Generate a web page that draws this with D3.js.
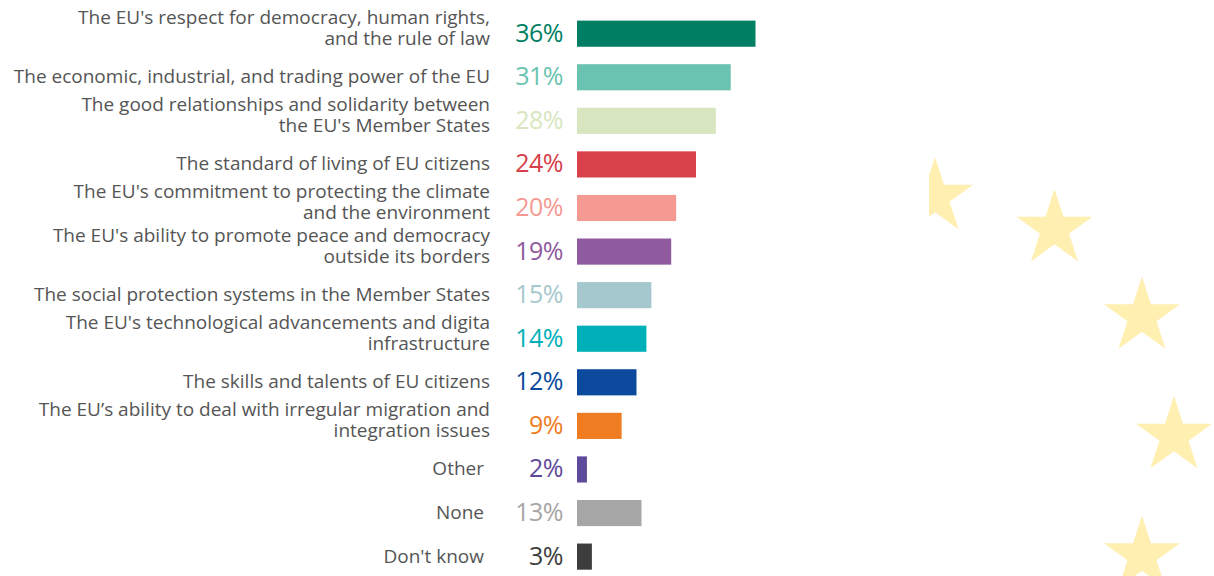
<!DOCTYPE html>
<html>
<head>
<meta charset="utf-8">
<script src="https://cdn.jsdelivr.net/npm/d3@7"></script>
<style>
  html, body { margin: 0; padding: 0; background: #fff; }
  svg { display: block; }
</style>
</head>
<body>
<div id="chart"></div>
<script>
// answers, top to bottom ("\n" = line break in the label)
const categories = [
  "The EU's respect for democracy, human rights,\nand the rule of law",
  "The economic, industrial, and trading power of the EU",
  "The good relationships and solidarity between\nthe EU's Member States",
  "The standard of living of EU citizens",
  "The EU's commitment to protecting the climate\nand the environment",
  "The EU's ability to promote peace and democracy\noutside its borders",
  "The social protection systems in the Member States",
  "The EU's technological advancements and digita\ninfrastructure",
  "The skills and talents of EU citizens",
  "The EU\u2019s ability to deal with irregular migration and\nintegration issues",
  "Other",
  "None",
  "Don't know"
];
const values = [36, 31, 28, 24, 20, 19, 15, 14, 12, 9, 2, 13, 3];
const colors = [
  "#007f64", "#6ac3b1", "#d8e6c0", "#d8404a", "#f59a93", "#8f5a9e", "#a5c8ce",
  "#00b0b9", "#0b4a9c", "#f07c22", "#5e4a9a", "#a6a6a6", "#3d3d3d"
];
// decorative EU stars, clock positions on the flag circle
const starHours = [12, 1, 2, 3, 4, 5];

const width = 1214;
const height = 576;

const svg = d3.select("#chart")
  .append("svg")
  .attr("width", width)
  .attr("height", height);

// --- stars in the background ---
const starCx = 935, starCy = 436, starRing = 239, starR = 40;

function starPath(R) {
  const r = R * 0.382;
  const pts = d3.range(10).map((i) => {
    const a = -Math.PI / 2 + i * Math.PI / 5;
    const rad = i % 2 === 0 ? R : r;
    return [rad * Math.cos(a), rad * Math.sin(a)];
  });
  return d3.line()(pts) + "Z";
}

svg.append("clipPath")
  .attr("id", "starclip")
  .append("rect")
  .attr("x", 929).attr("y", 0)
  .attr("width", width - 929).attr("height", height);

svg.append("g")
  .attr("clip-path", "url(#starclip)")
  .selectAll("path")
  .data(starHours)
  .enter()
  .append("path")
  .attr("d", starPath(starR))
  .attr("fill", "#ffefb0")
  .attr("transform", (h) => {
    const a = (h / 12) * 2 * Math.PI;
    const x = starCx + starRing * Math.sin(a);
    const y = starCy - starRing * Math.cos(a);
    return `translate(${x},${y})`;
  });

// --- bars ---
const y = d3.scaleBand()
  .domain(d3.range(categories.length))
  .range([11.9, 578.4])
  .paddingInner(0.4)
  .paddingOuter(0.2);

const x = d3.scaleLinear().domain([0, 36]).range([577, 755.5]);

const rows = svg.selectAll("g.row")
  .data(values)
  .enter()
  .append("g")
  .attr("class", "row");

rows.append("rect")
  .attr("x", x(0))
  .attr("y", (d, i) => y(i))
  .attr("width", (d) => x(d) - x(0))
  .attr("height", y.bandwidth())
  .attr("fill", (d, i) => colors[i]);

rows.append("text")
  .attr("x", 563)
  .attr("y", (d, i) => y(i) + y.bandwidth() / 2 + 8)
  .attr("text-anchor", "end")
  .attr("font-family", "'Open Sans', sans-serif")
  .attr("font-size", 25)
  .attr("letter-spacing", -0.5)
  .attr("fill", (d, i) => colors[i])
  .text((d) => d + "%");

const labels = rows.append("text")
  .attr("text-anchor", "end")
  .attr("font-family", "'Open Sans', sans-serif")
  .attr("font-size", 19)
  .attr("fill", "#555");

labels.each(function (d, i) {
  const lines = categories[i].split("\n");
  const mid = y(i) + y.bandwidth() / 2;
  const t = d3.select(this);
  const right = i >= 10 ? 484 : 490;
  if (lines.length === 1) {
    t.append("tspan").attr("x", right).attr("y", mid + 6).text(lines[0]);
  } else {
    t.append("tspan").attr("x", right).attr("y", mid - 10).text(lines[0]);
    t.append("tspan").attr("x", right).attr("y", mid + 11).text(lines[1]);
  }
});
</script>
</body>
</html>
